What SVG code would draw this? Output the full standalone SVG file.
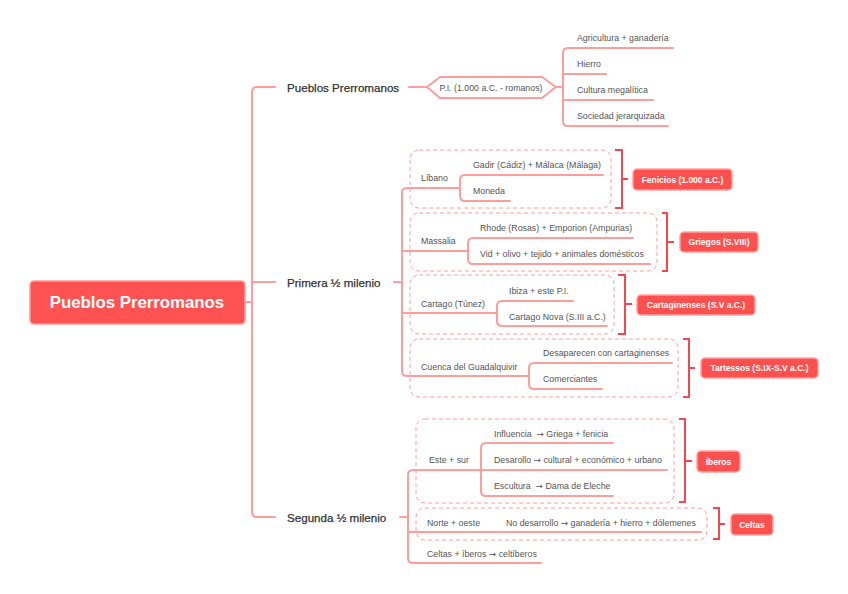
<svg xmlns="http://www.w3.org/2000/svg" width="848" height="594" viewBox="0 0 848 594">
<style>
.c{fill:none;stroke:#FF9C9C;stroke-width:2;stroke-linecap:round;stroke-linejoin:round}
.box{fill:none;stroke:#FF9C9C;stroke-width:1;stroke-dasharray:4 3}
.br{fill:none;stroke:#F4474F;stroke-width:2}
.lab{fill:#FF5050;stroke:#FFA3A3;stroke-width:1.5}
.lt{font-family:"Liberation Sans",Arial,sans-serif;font-size:8.5px;font-weight:bold;fill:#fff;text-anchor:middle;dominant-baseline:central}
.t{font-family:"Liberation Sans",Arial,sans-serif;font-size:8.8px;fill:#555;dominant-baseline:central;white-space:pre}
.ar{font-family:"DejaVu Sans",sans-serif}
.l1{font-family:"Liberation Sans",Arial,sans-serif;font-size:11.6px;fill:#333;stroke:#333;stroke-width:0.25;dominant-baseline:central}
</style>
<rect width="848" height="594" fill="#fff"/>
<g id="connectors">
<path class="c" d="M245,302 H252 M275,87 H257 Q252,87 252,92 V512 Q252,517 257,517 H275 M252,282 H275"/>
<path class="c" d="M409,87 H427 M556,87 H563 M673,48 H568 Q563,48 563,53 V121 Q563,126 568,126 H668 M563,74 H606 M563,100 H653"/>
<path class="c" d="M394,282 H402 M460,188 H407 Q402,188 402,193 V371 Q402,376 407,376 H529 M402,251 H468 M402,313 H497"/>
<path class="c" d="M603,175 H465 Q460,175 460,180 V196 Q460,201 465,201 H510"/>
<path class="c" d="M633,238 H473 Q468,238 468,243 V259 Q468,264 473,264 H650"/>
<path class="c" d="M573,301 H502 Q497,301 497,306 V321 Q497,326 502,326 H607"/>
<path class="c" d="M672,363 H534 Q529,363 529,368 V384 Q529,389 534,389 H602"/>
<path class="c" d="M400,517 H408 M481,470 H413 Q408,470 408,475 V558 Q408,563 413,563 H541 M408,532 H701"/>
<path class="c" d="M613,443 H486 Q481,443 481,448 V491 Q481,496 486,496 H613 M481,470 H667"/>
</g>
<g id="root">
<rect x="30" y="281" width="215" height="43" rx="4" fill="#FF5252" stroke="#FF9C9C" stroke-width="1.5"/>
<text x="137" y="302.5" font-family="Liberation Sans,Arial,sans-serif" font-size="16.8" font-weight="bold" fill="#fff" text-anchor="middle" dominant-baseline="central">Pueblos Prerromanos</text>
</g>
<g id="n-pueblos"><text class="l1" x="287" y="87">Pueblos Prerromanos</text></g>
<g id="n-primera"><text class="l1" x="287" y="282">Primera ½ milenio</text></g>
<g id="n-segunda"><text class="l1" x="287" y="517">Segunda ½ milenio</text></g>
<g id="n-pi">
<polygon points="427,87 440,77 542,77 556,87 542,98 440,98" fill="#fff" stroke="#FF9C9C" stroke-width="2" stroke-linejoin="round"/>
<text class="t" x="491" y="87.5" text-anchor="middle">P.I. (1.000 a.C. - romanos)</text>
</g>
<g id="n-agri"><text class="t" x="577" y="38">Agricultura + ganadería</text></g>
<g id="n-hierro"><text class="t" x="577" y="64">Hierro</text></g>
<g id="n-cultura"><text class="t" x="577" y="90">Cultura megalítica</text></g>
<g id="n-sociedad"><text class="t" x="577" y="116">Sociedad jerarquizada</text></g>
<g id="g-fenicios">
<rect class="box" x="410" y="150" width="201" height="58" rx="9"/>
<path class="br" d="M615,150 H622 V208 H615 M622,179 H628"/>
<rect class="lab" x="633" y="169" width="99" height="21" rx="4"/>
<text class="lt" x="682.5" y="179.5">Fenicios (1.000 a.C.)</text>
</g>
<g id="n-libano"><text class="t" x="421" y="178">Líbano</text></g>
<g id="n-gadir"><text class="t" x="473" y="165">Gadir (Cádiz) + Málaca (Málaga)</text></g>
<g id="n-moneda"><text class="t" x="473" y="191">Moneda</text></g>
<g id="g-griegos">
<rect class="box" x="410" y="213" width="247" height="58" rx="9"/>
<path class="br" d="M662,213 H667 V271 H662 M667,242 H674"/>
<rect class="lab" x="680" y="232" width="78" height="20" rx="4"/>
<text class="lt" x="719" y="242">Griegos (S.VIII)</text>
</g>
<g id="n-massalia"><text class="t" x="421" y="241">Massalia</text></g>
<g id="n-rhode"><text class="t" x="480" y="228">Rhode (Rosas) + Emporion (Ampurias)</text></g>
<g id="n-vid"><text class="t" x="480" y="254">Vid + olivo + tejido + animales domésticos</text></g>
<g id="g-cartagineses">
<rect class="box" x="410" y="275" width="204" height="59" rx="9"/>
<path class="br" d="M618,275 H625 V334 H618 M625,304 H632"/>
<rect class="lab" x="637" y="295" width="118" height="20" rx="4"/>
<text class="lt" x="696" y="305">Cartaginenses (S.V a.C.)</text>
</g>
<g id="n-cartago"><text class="t" x="421" y="304">Cartago (Túnez)</text></g>
<g id="n-ibiza"><text class="t" x="509" y="291">Ibiza + este P.I.</text></g>
<g id="n-nova"><text class="t" x="509" y="317">Cartago Nova (S.III a.C.)</text></g>
<g id="g-tartessos">
<rect class="box" x="410" y="339" width="268" height="58" rx="9"/>
<path class="br" d="M683,339 H689 V397 H683 M689,368 H695"/>
<rect class="lab" x="701" y="358" width="117" height="20" rx="4"/>
<text class="lt" x="759.5" y="368">Tartessos (S.IX-S.V a.C.)</text>
</g>
<g id="n-cuenca"><text class="t" x="421" y="367">Cuenca del Guadalquivir</text></g>
<g id="n-desaparecen"><text class="t" x="543" y="353">Desaparecen con cartaginenses</text></g>
<g id="n-comerciantes"><text class="t" x="543" y="379">Comerciantes</text></g>
<g id="g-iberos">
<rect class="box" x="416" y="419" width="258" height="84" rx="9"/>
<path class="br" d="M679,419 H685 V502 H679 M685,461 H692"/>
<rect class="lab" x="697" y="451" width="43" height="21" rx="4"/>
<text class="lt" x="718.5" y="461.5">Íberos</text>
</g>
<g id="n-este"><text class="t" x="429" y="460">Este + sur</text></g>
<g id="n-influencia"><text class="t" x="494" y="434">Influencia  <tspan class="ar">→</tspan> Griega + fenicia</text></g>
<g id="n-desarollo"><text class="t" x="494" y="460">Desarollo <tspan class="ar">→</tspan> cultural + económico + urbano</text></g>
<g id="n-escultura"><text class="t" x="494" y="486">Escultura  <tspan class="ar">→</tspan> Dama de Eleche</text></g>
<g id="g-celtas">
<rect class="box" x="416" y="508" width="291" height="32" rx="9"/>
<path class="br" d="M713,508 H719 V539 H713 M719,524 H725"/>
<rect class="lab" x="731" y="514" width="42" height="21" rx="4"/>
<text class="lt" x="752" y="524.5">Celtas</text>
</g>
<g id="n-norte"><text class="t" x="427" y="523">Norte + oeste</text></g>
<g id="n-nodesarrollo"><text class="t" x="506" y="523">No desarrollo <tspan class="ar">→</tspan> ganadería + hierro + dólemenes</text></g>
<g id="n-celtiberos"><text class="t" x="427" y="554">Celtas + íberos <tspan class="ar">→</tspan> celtíberos</text></g>
</svg>
